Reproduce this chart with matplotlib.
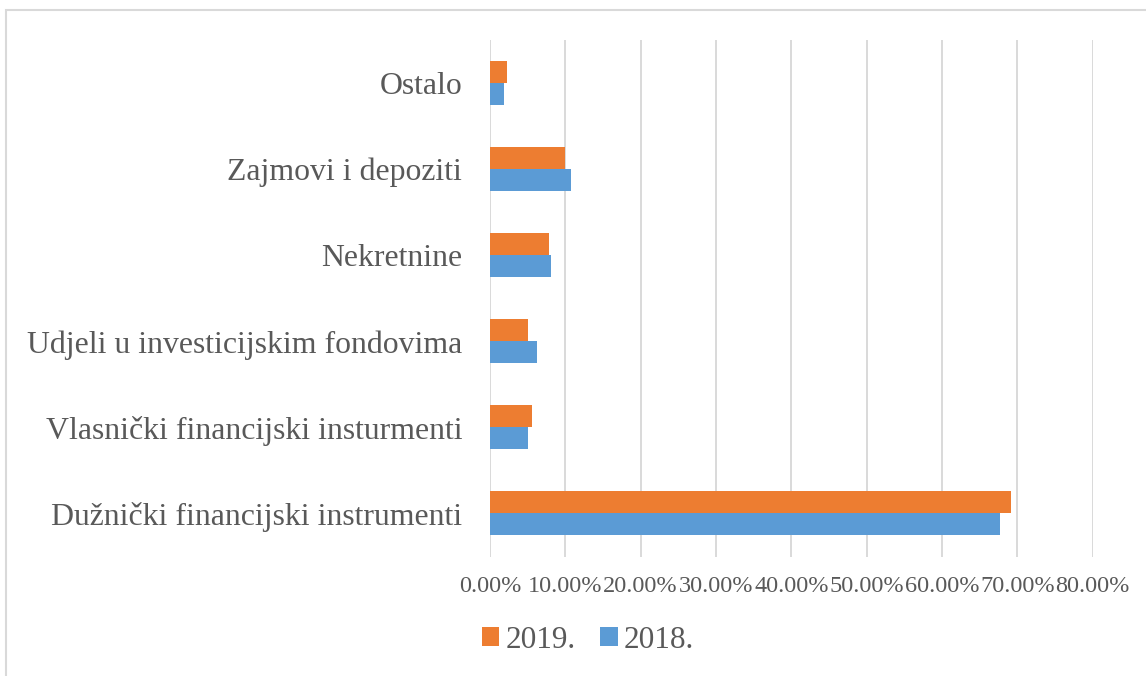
import matplotlib
matplotlib.use("Agg")
import matplotlib.pyplot as plt
from matplotlib.patches import Rectangle
import numpy as np

categories = ["Dužnički financijski instrumenti", "Vlasnički financijski insturmenti",
              "Udjeli u investicijskim fondovima", "Nekretnine",
              "Zajmovi i depoziti", "Ostalo"]
values_2019 = [69.2, 5.6, 5.0, 7.8, 9.9, 2.2]
values_2018 = [67.7, 5.1, 6.3, 8.1, 10.8, 1.8]
xticks = [0, 10, 20, 30, 40, 50, 60, 70, 80]
xtick_labels = ["0.00%", "10.00%", "20.00%", "30.00%", "40.00%", "50.00%", "60.00%", "70.00%", "80.00%"]

plt.rcParams['font.family'] = ['Liberation Serif', 'DejaVu Serif']
W, H = 1146, 676
fig = plt.figure(figsize=(W/100, H/100), dpi=100)
ax = fig.add_axes([490/W, (H-556.5)/H, (1092.7-490)/W, (556.5-40)/H])

c19 = "#ED7D31"
c18 = "#5B9BD5"
txt = "#595959"
y = np.arange(len(categories))
h = 0.256
ax.barh(y + h/2, values_2019, height=h, color=c19, label="2019.", zorder=3)
ax.barh(y - h/2, values_2018, height=h, color=c18, label="2018.", zorder=3)

ax.set_xlim(0, 80)
ax.set_ylim(-0.5, len(categories) - 0.5)
ax.set_xticks(xticks)
ax.set_xticklabels(xtick_labels, fontsize=17.5, color=txt)
ax.set_yticks(y)
ax.set_yticklabels(categories, fontsize=22.9, color=txt)
ax.tick_params(axis='both', length=0)
ax.tick_params(axis='y', pad=20)
ax.tick_params(axis='x', pad=14)
for s in ax.spines.values():
    s.set_visible(False)
ax.grid(axis='x', color="#d9d9d9", linewidth=1.4, zorder=0)
ax.set_axisbelow(True)

leg = fig.legend(handles=[ax.patches[0], ax.patches[len(categories)]], labels=["2019.", "2018."],
                 loc='center', bbox_to_anchor=(588/W, (H-640)/H), ncol=2, frameon=False,
                 fontsize=22.5, handlelength=0.55, handleheight=0.55, handletextpad=0.2,
                 columnspacing=0.8, labelcolor=txt)

fig.patches.append(Rectangle((6/W, -0.01), 1.02, 1 - 10/H + 0.01, transform=fig.transFigure,
                             fill=False, edgecolor="#d9d9d9", linewidth=1.5))

fig.savefig("out.png", dpi=100)
